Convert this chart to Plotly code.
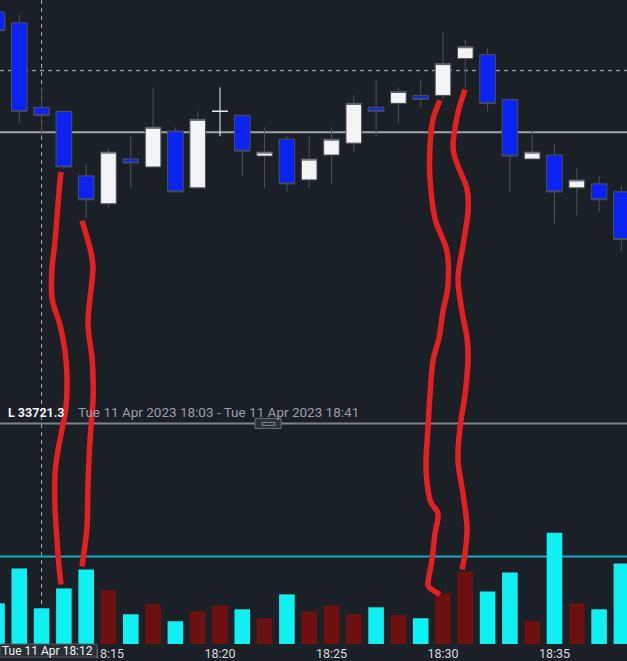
import plotly.graph_objects as go

W, H = 627, 661

# ---------------- data ----------------
times = ["2023-04-11 18:%02d" % m for m in range(10, 39)]
opens = [33797.6, 33795.4, 33778.4, 33777.6, 33764.6, 33759.0, 33768.0, 33766.4, 33773.6, 33762.2,
         33777.6, 33776.8, 33768.6, 33772.0, 33763.8, 33768.8, 33771.2, 33778.4, 33779.2, 33780.8,
         33780.8, 33788.2, 33789.0, 33780.0, 33768.0, 33768.8, 33762.2, 33763.0, 33761.4]
highs = [33799.0, 33797.0, 33782.4, 33777.6, 33767.0, 33770.2, 33772.6, 33782.4, 33774.4, 33777.6,
         33782.4, 33776.8, 33774.4, 33772.6, 33772.6, 33774.4, 33780.8, 33784.0, 33782.4, 33784.0,
         33793.6, 33792.0, 33790.4, 33780.0, 33773.6, 33771.0, 33766.2, 33764.6, 33762.6]
lows = [33793.0, 33775.2, 33772.6, 33766.0, 33756.0, 33758.2, 33762.2, 33766.4, 33761.4, 33762.2,
        33772.6, 33764.6, 33762.2, 33761.4, 33762.2, 33763.0, 33769.4, 33772.6, 33775.2, 33778.4,
        33780.0, 33782.4, 33777.6, 33761.4, 33768.0, 33755.0, 33756.6, 33757.4, 33749.4]
closes = [33793.8, 33777.6, 33776.8, 33766.4, 33759.8, 33769.4, 33767.2, 33774.4, 33761.4, 33776.0,
          33777.6, 33769.6, 33769.4, 33763.0, 33768.0, 33772.0, 33779.2, 33777.6, 33781.6, 33780.0,
          33787.2, 33790.6, 33779.2, 33768.6, 33769.4, 33761.4, 33763.8, 33759.8, 33751.8]
volumes = [205, 380, 180, 280, 375, 270, 150, 200, 115, 165,
           195, 175, 130, 250, 165, 195, 150, 185, 145, 130,
           255, 365, 265, 360, 115, 560, 205, 175, 405]
vol_up = [True, True, True, True, True, False, True, False, True, False,
          False, True, False, True, False, False, False, True, False, True,
          False, False, True, True, False, True, False, True, True]
avg_volume = 440
level_dashed = 33785.8
level_solid = 33773.4
cursor_time = "2023-04-11 18:12"
x_ticks_dtick_ms = 5 * 60 * 1000
low_label = "L 33721.3"
period_label = "Tue 11 Apr 2023 18:03 - Tue 11 Apr 2023 18:41"
cursor_label = "Tue 11 Apr 18:12"

# hand-drawn red strokes (pixel positions in the screenshot)
strokes = [
    [(61, 173), (59, 193), (55, 243), (52, 270), (52, 300), (60, 327), (65, 353), (67, 380), (66, 410),
     (63, 427), (58, 453), (55, 477), (55, 510), (57, 543), (59, 570), (61, 588)],
    [(82, 222), (90, 250), (93, 270), (90, 300), (88, 327), (92, 360), (93, 380), (93, 403), (90, 443),
     (88, 487), (87, 530), (83, 563), (82, 570)],
    [(440, 101), (433, 120), (430, 147), (430, 180), (435, 220), (447, 253), (448, 287), (443, 313),
     (439, 340), (433, 363), (430, 397), (428, 430), (426, 470), (430, 503), (438, 517), (435, 537),
     (432, 563), (428, 587), (432, 593), (440, 598)],
    [(465, 90), (458, 113), (453, 147), (458, 167), (467, 190), (468, 213), (463, 247), (458, 280),
     (462, 313), (467, 340), (468, 363), (465, 397), (460, 430), (458, 463), (463, 497), (467, 530),
     (465, 557), (462, 573)],
]

# ---------------- style ----------------
BG = "#1b2027"
BLUE = "#0a22f2"
WHITE = "#f3f4f6"
EDGE = "#4b515b"
CYAN = "#0ff0f2"
DRED = "#6c1010"
RED = "#e41f1f"
FONT = "Roboto, Arial"


def px(x):
    return x / W


def py(y):
    return 1 - y / H


fig = go.Figure()

idx_main = [i for i in range(len(times)) if opens[i] != closes[i]]
idx_doji = [i for i in range(len(times)) if opens[i] == closes[i]]

fig.add_trace(go.Candlestick(
    x=[times[i] for i in idx_main],
    open=[opens[i] for i in idx_main], high=[highs[i] for i in idx_main],
    low=[lows[i] for i in idx_main], close=[closes[i] for i in idx_main],
    increasing=dict(fillcolor=WHITE, line=dict(color=EDGE, width=1)),
    decreasing=dict(fillcolor=BLUE, line=dict(color=EDGE, width=1)),
    whiskerwidth=0, xaxis="x", yaxis="y", hoverinfo="skip", showlegend=False,
))
fig.add_trace(go.Candlestick(
    x=[times[i] for i in idx_doji],
    open=[opens[i] for i in idx_doji], high=[highs[i] for i in idx_doji],
    low=[lows[i] for i in idx_doji], close=[closes[i] for i in idx_doji],
    increasing=dict(fillcolor=WHITE, line=dict(color=WHITE, width=1)),
    decreasing=dict(fillcolor=WHITE, line=dict(color=WHITE, width=1)),
    whiskerwidth=0, xaxis="x", yaxis="y", hoverinfo="skip", showlegend=False,
))

fig.add_trace(go.Bar(
    x=times, y=volumes, marker=dict(color=[CYAN if u else DRED for u in vol_up], line=dict(width=0)),
    width=[0.7 * 60000] * len(times), xaxis="x", yaxis="y2", hoverinfo="skip", showlegend=False,
))

shapes = []
shapes.append(dict(type="line", xref="paper", x0=0, x1=1, yref="y", y0=level_dashed, y1=level_dashed,
                   line=dict(color="#8e939a", width=1.5, dash="4px,4px"), layer="below"))
shapes.append(dict(type="line", xref="paper", x0=0, x1=1, yref="y", y0=level_solid, y1=level_solid,
                   line=dict(color="#9fa3a9", width=2), layer="below"))
shapes.append(dict(type="line", xref="x", x0=cursor_time, x1=cursor_time, yref="paper", y0=py(648), y1=1,
                   line=dict(color="#a9adb3", width=1, dash="4px,4px"), layer="below"))
shapes.append(dict(type="line", xref="paper", x0=0, x1=1, yref="paper", y0=py(426), y1=py(426),
                   line=dict(color="#7d8189", width=2)))
shapes.append(dict(type="rect", xref="paper", yref="paper", x0=px(255), x1=px(281), y0=py(431), y1=py(421),
                   fillcolor="#2b3038", line=dict(color="#6b6f77", width=1)))
shapes.append(dict(type="rect", xref="paper", yref="paper", x0=px(262), x1=px(275), y0=py(428), y1=py(425),
                   fillcolor="#2b3038", line=dict(color="#80848b", width=1)))
shapes.append(dict(type="line", xref="paper", x0=0, x1=1, yref="y2", y0=avg_volume, y1=avg_volume,
                   line=dict(color="#1aa9c2", width=2), layer="below"))
shapes.append(dict(type="rect", xref="paper", yref="paper", x0=0, x1=px(97), y0=0, y1=py(648),
                   fillcolor="#2a2e35", line=dict(color="#555a62", width=1)))


def smooth_path(pts):
    P = [(px(x), py(y)) for x, y in pts]
    d = "M %.5f,%.5f" % P[0]
    for i in range(len(P) - 1):
        p0 = P[i - 1] if i > 0 else P[i]
        p1, p2 = P[i], P[i + 1]
        p3 = P[i + 2] if i + 2 < len(P) else P[i + 1]
        c1 = (p1[0] + (p2[0] - p0[0]) / 6, p1[1] + (p2[1] - p0[1]) / 6)
        c2 = (p2[0] - (p3[0] - p1[0]) / 6, p2[1] - (p3[1] - p1[1]) / 6)
        d += " C %.5f,%.5f %.5f,%.5f %.5f,%.5f" % (c1 + c2 + p2)
    return d


for s in strokes:
    shapes.append(dict(type="path", xref="paper", yref="paper", path=smooth_path(s),
                       line=dict(color=RED, width=5.5), layer="above"))

annotations = [
    dict(x=px(6), y=py(415), xref="paper", yref="paper", text="<b>%s</b>" % low_label, showarrow=False,
         xanchor="left", yanchor="middle", font=dict(color="#f2f3f5", size=12.5, family=FONT)),
    dict(x=px(76), y=py(415), xref="paper", yref="paper", text=period_label, showarrow=False,
         xanchor="left", yanchor="middle", font=dict(color="#9a9ea5", size=13.5, family=FONT)),
    dict(x=px(95), y=py(654.5), xref="paper", yref="paper", text=cursor_label, showarrow=False,
         xanchor="right", yanchor="middle", font=dict(color="#f2f3f5", size=12, family=FONT)),
]

fig.update_layout(
    width=W, height=H, margin=dict(l=0, r=0, t=0, b=0),
    paper_bgcolor=BG, plot_bgcolor=BG, showlegend=False,
    boxgap=0.3, boxgroupgap=0,
    shapes=shapes, annotations=annotations,
    xaxis=dict(type="date", range=["2023-04-11 18:10:08.1", "2023-04-11 18:38:15.1"],
               anchor="y2", rangeslider=dict(visible=False), showgrid=False, zeroline=False,
               showline=False, ticks="", tickformat="%H:%M", dtick=x_ticks_dtick_ms,
               tick0="2023-04-11 18:00", tickfont=dict(color="#d6d9de", size=12.5, family=FONT),
               fixedrange=True),
    yaxis=dict(domain=[py(426), 1], range=[33714.8, 33800], showgrid=False, zeroline=False,
               showticklabels=False, fixedrange=True),
    yaxis2=dict(domain=[py(648), py(430)], range=[0, 1090], showgrid=False, zeroline=False,
                showticklabels=False, fixedrange=True),
)

fig.write_html(
    "out.html",
    config={"displayModeBar": False},
    post_script="var s=document.documentElement.style;s.margin='0';s.overflow='hidden';s.height='661px';"
                "var b=document.body.style;b.margin='0';b.overflow='hidden';b.height='661px';"
                "b.background='%s';" % BG,
)
